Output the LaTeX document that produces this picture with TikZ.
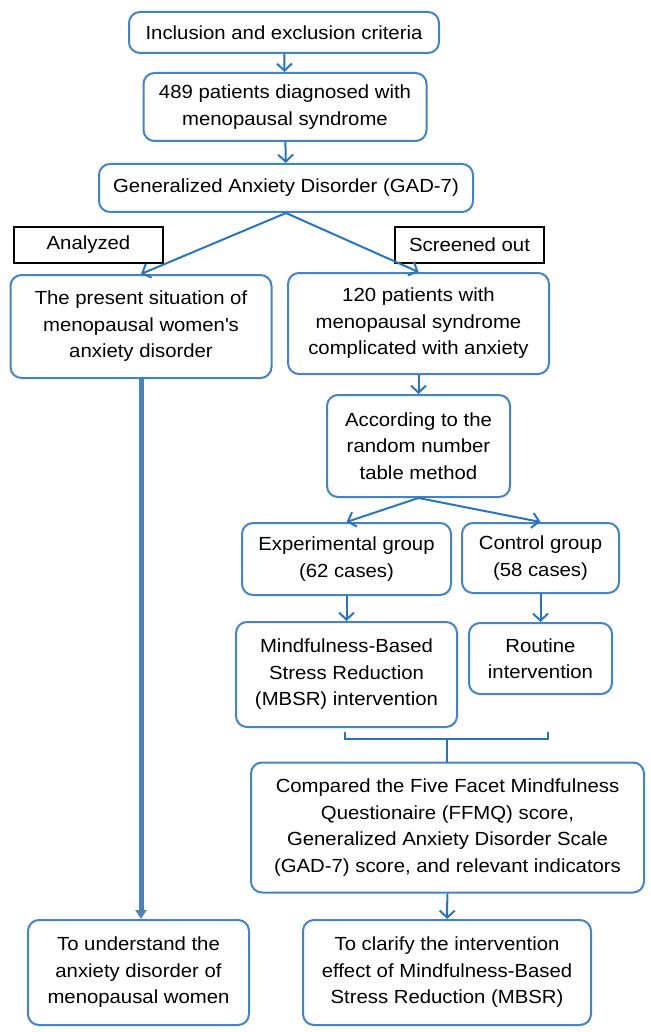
\documentclass[tikz,border=0pt]{standalone}
\usepackage{fontspec}
\setmainfont{Liberation Sans}[FakeStretch=1.07]
\usepackage{tikz}
\usetikzlibrary{arrows.meta}
\definecolor{boxblue}{RGB}{67,131,198}
\definecolor{arrblue}{RGB}{40,117,190}
\definecolor{thickblue}{RGB}{79,129,189}
\tikzset{>={Straight Barb[length=7pt,width=15pt]}}
\tikzset{box/.style = {draw=boxblue,line width=2pt,rounded corners=11pt,inner sep=0pt,align=center,
        font=\fontsize{19}{26.5}\selectfont}}
\tikzset{tag/.style = {draw=black,line width=1.5pt,inner sep=0pt,font=\fontsize{19}{26.5}\selectfont}}
\tikzset{flow/.style = {->,draw=arrblue,line width=2pt}}

\begin{document}
\begin{tikzpicture}[x=1pt,y=-1pt]
                    \useasboundingbox (0,0) rectangle (650,1032);

                    \node[box,minimum width=310,minimum height=41] (crit) at (284,32.5) {Inclusion and exclusion criteria};
                    \node[box,minimum width=283,minimum height=68] (pat) at (285,107) {489 patients diagnosed with\\menopausal syndrome};
                    \node[box,minimum width=374,minimum height=48] (gad) at (286,188) {Generalized Anxiety Disorder (GAD-7)};

                    \node[tag,minimum width=149,minimum height=36] (ana) at (88.5,245) {Analyzed};
                    \node[tag,minimum width=149,minimum height=36] (scr) at (469.5,245) {Screened out};

                    \node[box,minimum width=261,minimum height=103] (sit) at (141,326.5) {The present situation of\\menopausal women\textquotesingle s\\anxiety disorder};
                    \node[box,minimum width=261,minimum height=101] (anx) at (418.5,323.5) {120 patients with\\menopausal syndrome\\complicated with anxiety};
                    \node[box,minimum width=183,minimum height=102] (rand) at (418.5,446) {According to the\\random number\\table method};

                    \node[box,minimum width=209,minimum height=72] (exp) at (346.5,559) {Experimental group\\(62 cases)};
                    \node[box,minimum width=157,minimum height=70] (ctl) at (540.5,558) {Control group\\(58 cases)};
                    \node[box,minimum width=221,minimum height=105] (mbsr) at (346.5,674.5) {Mindfulness-Based\\Stress Reduction\\(MBSR) intervention};
                    \node[box,minimum width=143,minimum height=71] (rout) at (540.5,658.5) {Routine\\intervention};

                    \node[box,minimum width=393,minimum height=130] (cmp) at (447.5,827.5) {Compared the Five Facet Mindfulness\\Questionaire (FFMQ) score,\\Generalized Anxiety Disorder Scale\\(GAD-7) score, and relevant indicators};
                    \node[box,minimum width=288,minimum height=105] (clar) at (447,972.5) {To clarify the intervention\\effect of Mindfulness-Based\\Stress Reduction (MBSR)};
                    \node[box,minimum width=221,minimum height=105] (und) at (138.5,972.5) {To understand the\\anxiety disorder of\\menopausal women};

                    \coordinate (bl) at (345,732);
                    \coordinate (br) at (548,732);
                    \coordinate (bm) at (447,739);

                    \draw[flow] (crit) -- (pat);
                    \draw[flow] (pat) -- (gad);
                    \draw[flow] (gad.south) -- (sit.north);
                    \draw[flow] (gad.south) -- (anx.north);
                    \draw[flow] (anx) -- (rand);
                    \draw[flow] (rand.south) -- (exp.north);
                    \draw[flow] (rand.south) -- (ctl.north);
                    \draw[flow] (exp) -- (mbsr);
                    \draw[flow] (ctl) -- (rout);
                    \draw[flow] (cmp) -- (clar);

                    \draw[draw=arrblue,line width=2pt] (bl) |- (bm) -| (br);
                    \draw[draw=arrblue,line width=2pt] (bm) -- (bm |- cmp.north);

                    \draw[-{Triangle[length=9pt,width=11pt]},draw=thickblue,line width=5pt] (sit.south) -- (sit.south |- und.north);
                \end{tikzpicture}
\end{document}
